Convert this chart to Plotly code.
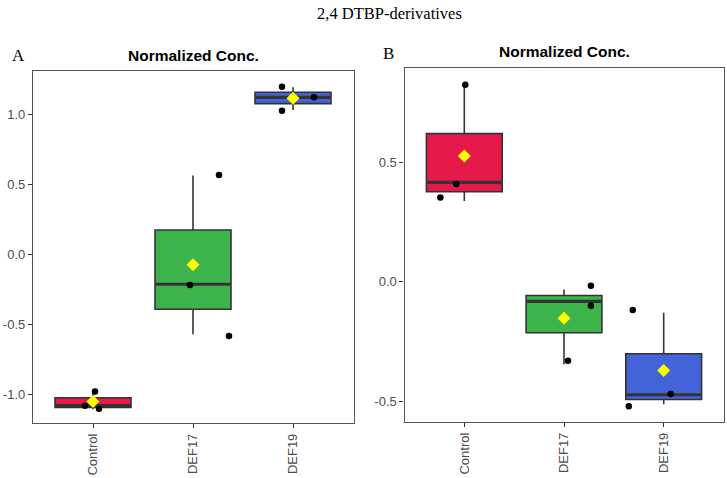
import numpy as np
import plotly.graph_objects as go

categories = ["Control", "DEF17", "DEF19"]
colors = ["#e6194b", "#3cb44b", "#4363d8"]

# Panel A: underlying values (for box stats) and jittered point values as drawn
a_values = {
    "Control": [-1.106, -1.080, -0.968],
    "DEF17": [-0.571, -0.214, 0.562],
    "DEF19": [1.031, 1.121, 1.193],
}
a_points = {
    "Control": [-0.980, -1.081, -1.103],
    "DEF17": [0.567, -0.219, -0.584],
    "DEF19": [1.197, 1.026, 1.121],
}
a_jitter = {
    "Control": [0.02, -0.08, 0.06],
    "DEF17": [0.26, -0.03, 0.36],
    "DEF19": [-0.11, -0.11, 0.21],
}

# Panel B
b_values = {
    "Control": [0.338, 0.415, 0.823],
    "DEF17": [-0.344, -0.082, -0.032],
    "DEF19": [-0.512, -0.472, -0.129],
}
b_points = {
    "Control": [0.823, 0.409, 0.352],
    "DEF17": [-0.017, -0.100, -0.330],
    "DEF19": [-0.118, -0.469, -0.520],
}
b_jitter = {
    "Control": [0.01, -0.08, -0.24],
    "DEF17": [0.27, 0.27, 0.04],
    "DEF19": [-0.31, 0.07, -0.35],
}

a_ticks = [-1.0, -0.5, 0.0, 0.5, 1.0]
b_ticks = [-0.5, 0.0, 0.5]
a_range = [-1.207, 1.309]
b_range = [-0.587, 0.892]

main_title = "2,4 DTBP-derivatives"
panel_title = "Normalized Conc."
panel_labels = ["A", "B"]

BOX_W = 0.76
fig = go.Figure()


def add_panel(values, points, jitter, xa, ya):
    for i, cat in enumerate(categories):
        v = np.array(values[cat])
        q1, med, q3 = np.percentile(v, [25, 50, 75])
        fig.add_trace(go.Box(
            x=[i], q1=[q1], median=[med], q3=[q3],
            lowerfence=[v.min()], upperfence=[v.max()],
            width=BOX_W, fillcolor=colors[i],
            line=dict(color="#333333", width=1.6),
            whiskerwidth=0, boxpoints=False, showlegend=False,
            xaxis=xa, yaxis=ya, hoverinfo="skip",
        ))
        # thick median line
        fig.add_trace(go.Scatter(
            x=[i - BOX_W / 2 + 0.01, i + BOX_W / 2 - 0.01], y=[med, med],
            mode="lines", line=dict(color="#333333", width=3.2),
            showlegend=False, xaxis=xa, yaxis=ya, hoverinfo="skip",
        ))
        # jittered points
        fig.add_trace(go.Scatter(
            x=[i + j for j in jitter[cat]], y=points[cat], mode="markers",
            marker=dict(color="black", size=6.5),
            showlegend=False, xaxis=xa, yaxis=ya, hoverinfo="skip",
        ))
        # mean diamond
        fig.add_trace(go.Scatter(
            x=[i], y=[float(v.mean())], mode="markers",
            marker=dict(color="#ffff00", size=10, symbol="diamond",
                        line=dict(width=0)),
            showlegend=False, xaxis=xa, yaxis=ya, hoverinfo="skip",
        ))


add_panel(a_values, a_points, a_jitter, "x", "y")
add_panel(b_values, b_points, b_jitter, "x2", "y2")

W, H = 727, 478
axis_common = dict(
    showline=True, mirror=True, linecolor="#555555", linewidth=1.3,
    ticks="outside", ticklen=4, tickwidth=1.1, tickcolor="#333333",
    showgrid=False, zeroline=False,
    tickfont=dict(family="Liberation Sans, Arial", size=13, color="#4d4d4d"),
)


def fmt(t):
    return f"{t:.1f}"


fig.update_layout(
    width=W, height=H, margin=dict(l=0, r=0, t=0, b=0),
    paper_bgcolor="white", plot_bgcolor="white",
    xaxis=dict(domain=[33 / W, 354 / W], range=[-0.6, 2.61],
               tickvals=[0, 1, 2], ticktext=categories, tickangle=-90,
               anchor="y", **axis_common),
    yaxis=dict(domain=[1 - 423.3 / H, 1 - 71 / H], range=a_range,
               tickvals=a_ticks, ticktext=[fmt(t) for t in a_ticks],
               anchor="x", **axis_common),
    xaxis2=dict(domain=[404.5 / W, 723.5 / W], range=[-0.6, 2.6],
                tickvals=[0, 1, 2], ticktext=categories, tickangle=-90,
                anchor="y2", **axis_common),
    yaxis2=dict(domain=[1 - 422.3 / H, 1 - 68.3 / H], range=b_range,
                tickvals=b_ticks, ticktext=[fmt(t) for t in b_ticks],
                anchor="x2", **axis_common),
)

annotations = [
    dict(text=main_title, x=389 / W, y=1 - 13 / H, xref="paper", yref="paper",
         showarrow=False, xanchor="center", yanchor="middle",
         font=dict(family="Liberation Serif, Times New Roman", size=16.5, color="black")),
    dict(text=f"<b>{panel_title}</b>", x=193.5 / W, y=1 - 55 / H, xref="paper", yref="paper",
         showarrow=False, xanchor="center", yanchor="middle",
         font=dict(family="Liberation Sans, Arial", size=15.5, color="black")),
    dict(text=f"<b>{panel_title}</b>", x=564 / W, y=1 - 52 / H, xref="paper", yref="paper",
         showarrow=False, xanchor="center", yanchor="middle",
         font=dict(family="Liberation Sans, Arial", size=15.5, color="black")),
    dict(text=panel_labels[0], x=18 / W, y=1 - 56 / H, xref="paper", yref="paper",
         showarrow=False, xanchor="center", yanchor="middle",
         font=dict(family="Liberation Serif, Times New Roman", size=17, color="black")),
    dict(text=panel_labels[1], x=388 / W, y=1 - 53 / H, xref="paper", yref="paper",
         showarrow=False, xanchor="center", yanchor="middle",
         font=dict(family="Liberation Serif, Times New Roman", size=17, color="black")),
]
fig.update_layout(annotations=annotations)

fig.write_html("out.html")
